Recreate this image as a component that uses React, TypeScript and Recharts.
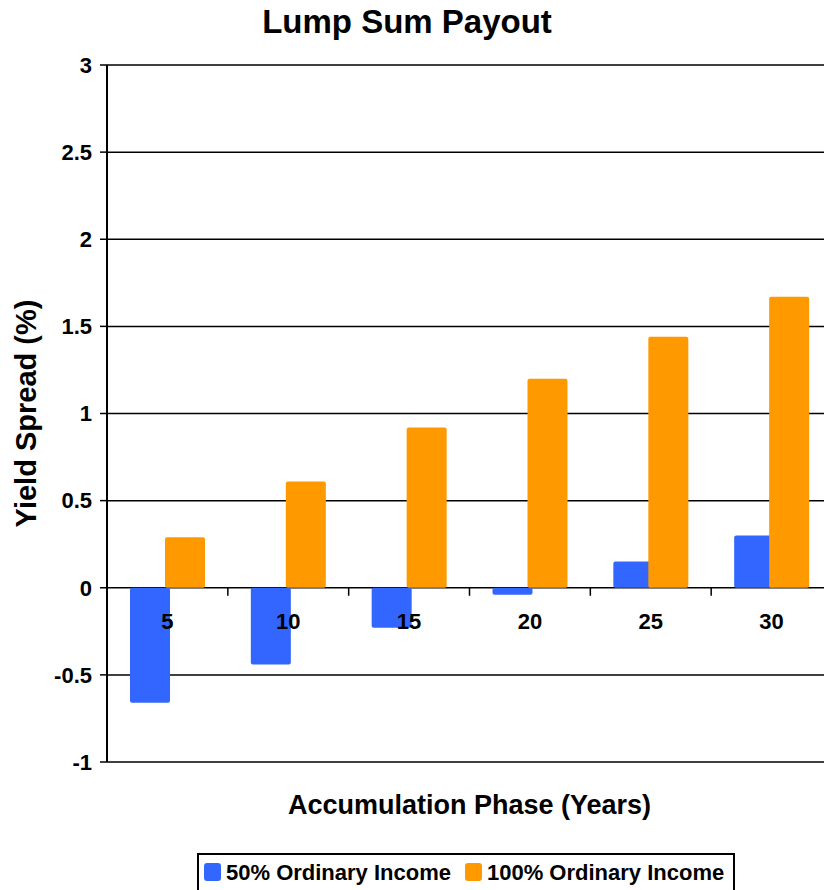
import React from 'react';
import { BarChart, Bar, XAxis, YAxis, CartesianGrid, Legend, Label } from 'recharts';

const years = ['5', '10', '15', '20', '25', '30'];
const ordinary50 = [-0.66, -0.44, -0.23, -0.04, 0.15, 0.3];
const ordinary100 = [0.29, 0.61, 0.92, 1.2, 1.44, 1.67];
const yTicks = [-1, -0.5, 0, 0.5, 1, 1.5, 2, 2.5, 3];
const seriesNames = ['50% Ordinary Income', '100% Ordinary Income'];
const titleText = 'Lump Sum Payout';
const xTitle = 'Accumulation Phase (Years)';
const yTitle = 'Yield Spread (%)';

const data = years.map((y, i) => ({ year: y, p50: ordinary50[i], p100: ordinary100[i] }));

const FONT = '"Liberation Sans", Arial, Helvetica, sans-serif';
const CHART_W = 850;
const CHART_H = 890;
const MARGIN = { top: 65, right: 18, bottom: 98, left: 0 };
const Y_AXIS_W = 107;
const X_AXIS_H = 30;
const PLOT_H = CHART_H - MARGIN.top - MARGIN.bottom - X_AXIS_H;
const PLOT_W = CHART_W - MARGIN.left - MARGIN.right - Y_AXIS_W;
const Y_MIN = -1;
const Y_MAX = 3;

const CategoryTick = (props: any) => {
  const { x, payload } = props;
  const zeroY = MARGIN.top + (PLOT_H * (Y_MAX - 0)) / (Y_MAX - Y_MIN);
  const band = PLOT_W / years.length;
  return (
    <g>
      <text
        x={x}
        y={zeroY + 41}
        textAnchor="middle"
        fontFamily={FONT}
        fontWeight="bold"
        fontSize={22}
        fill="#000"
      >
        {payload.value}
      </text>
      <line x1={x + band / 2} x2={x + band / 2} y1={zeroY} y2={zeroY + 8} stroke="#000" strokeWidth={1.5} />
    </g>
  );
};

const renderLegend = (props: any) => {
  const payload = [...(props.payload || [])].sort(
    (a: any, b: any) => seriesNames.indexOf(a.value) - seriesNames.indexOf(b.value)
  );
  return (
    <div
      style={{
        border: '2px solid #000',
        height: 50,
        boxSizing: 'border-box',
        display: 'flex',
        paddingLeft: 5,
        paddingTop: 8,
        fontFamily: FONT,
        fontWeight: 'bold',
        fontSize: 22,
        color: '#000',
        background: '#fff',
      }}
    >
      {payload.map((entry: any, i: number) => (
        <div key={i} style={{ display: 'flex', alignItems: 'flex-start', marginRight: 14 }}>
          <span
            style={{
              width: 17,
              height: 18,
              background: entry.color,
              borderRadius: 3,
              marginRight: 5,
              display: 'inline-block',
            }}
          />
          <span style={{ lineHeight: '22px', marginTop: -1, whiteSpace: 'nowrap' }}>{entry.value}</span>
        </div>
      ))}
    </div>
  );
};

export default function App() {
  return (
    <div
      style={{
        position: 'absolute',
        left: 0,
        top: 0,
        width: 824,
        height: 890,
        overflow: 'hidden',
        background: '#fff',
      }}
    >
      <div
        style={{
          position: 'absolute',
          left: 0,
          top: 5,
          width: 814,
          textAlign: 'center',
          fontFamily: FONT,
          fontWeight: 'bold',
          fontSize: 33,
          lineHeight: '33px',
          color: '#000',
        }}
      >
        {titleText}
      </div>
      <BarChart
        width={CHART_W}
        height={CHART_H}
        data={data}
        margin={MARGIN}
        barSize={40}
        barGap={-5}
      >
        <CartesianGrid horizontal vertical={false} stroke="#000" strokeWidth={1.5} />
        <Bar dataKey="p50" name={seriesNames[0]} fill="#3366FF" radius={2} isAnimationActive={false} />
        <Bar dataKey="p100" name={seriesNames[1]} fill="#FF9900" radius={2} isAnimationActive={false} />
        <YAxis
          width={Y_AXIS_W}
          domain={[Y_MIN, Y_MAX]}
          ticks={yTicks}
          interval={0}
          axisLine={{ stroke: '#000', strokeWidth: 2 }}
          tickLine={{ stroke: '#000', strokeWidth: 1.5 }}
          tickSize={7}
          tickMargin={8}
          tick={{ fontFamily: FONT, fontWeight: 'bold', fontSize: 22, fill: '#000' }}
        >
          <Label
            content={(p: any) => {
              const vb = p.viewBox || { x: 0, y: MARGIN.top, height: PLOT_H };
              const cx = vb.x + 36;
              const cy = vb.y + vb.height / 2;
              return (
                <text
                  x={cx}
                  y={cy}
                  transform={`rotate(-90 ${cx} ${cy})`}
                  textAnchor="middle"
                  fontFamily={FONT}
                  fontWeight="bold"
                  fontSize={29}
                  fill="#000"
                >
                  {yTitle}
                </text>
              );
            }}
          />
        </YAxis>
        <XAxis
          dataKey="year"
          height={X_AXIS_H}
          axisLine={false}
          tickLine={false}
          interval={0}
          tick={<CategoryTick />}
        >
          <Label
            content={(p: any) => {
              const vb = p.viewBox || { x: Y_AXIS_W, y: MARGIN.top + PLOT_H, width: PLOT_W };
              return (
                <text
                  x={vb.x + vb.width / 2}
                  y={vb.y + 52}
                  textAnchor="middle"
                  fontFamily={FONT}
                  fontWeight="bold"
                  fontSize={27}
                  fill="#000"
                >
                  {xTitle}
                </text>
              );
            }}
          />
        </XAxis>
        <Legend
          verticalAlign="middle"
          align="center"
          layout="horizontal"
          content={renderLegend}
          wrapperStyle={{ left: 197, top: 853, width: 538 }}
        />
      </BarChart>
    </div>
  );
}
